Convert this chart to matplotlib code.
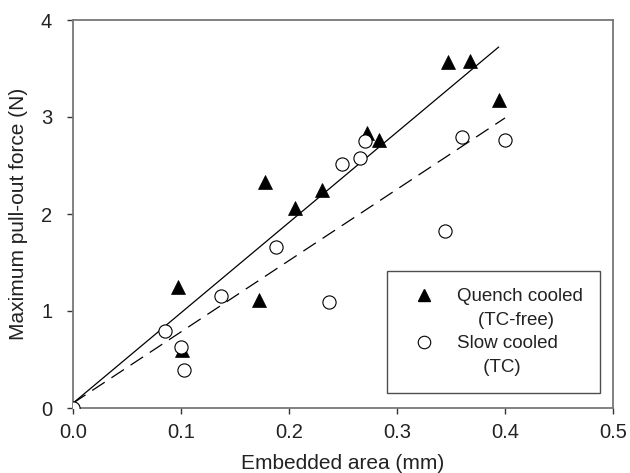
import matplotlib
matplotlib.use("Agg")
import matplotlib.pyplot as plt
from matplotlib.lines import Line2D

plt.rcParams['font.family'] = ['Liberation Sans', 'DejaVu Sans']

# Quench cooled (TC-free)
quench_x = [0.0, 0.097, 0.101, 0.172, 0.178, 0.206, 0.231, 0.272, 0.283, 0.347, 0.368, 0.394]
quench_y = [0.0, 1.25, 0.60, 1.11, 2.33, 2.06, 2.25, 2.83, 2.76, 3.57, 3.58, 3.18]

# Slow cooled (TC)
slow_x = [0.0, 0.085, 0.100, 0.103, 0.137, 0.188, 0.237, 0.249, 0.266, 0.270, 0.344, 0.360, 0.400]
slow_y = [0.0, 0.79, 0.63, 0.39, 1.15, 1.66, 1.09, 2.52, 2.58, 2.75, 1.82, 2.79, 2.76]

# Fitted lines (endpoints)
fit_quench_x = [0.0, 0.394]
fit_quench_y = [0.05, 3.72]
fit_slow_x = [0.0, 0.400]
fit_slow_y = [0.05, 2.99]

xticks = [0.0, 0.1, 0.2, 0.3, 0.4, 0.5]
yticks = [0, 1, 2, 3, 4]

fig = plt.figure(figsize=(6.3, 4.73), dpi=100)
ax = fig.add_axes([73/630, 1 - 408/473, (613-73)/630, (408-20)/473])

ax.plot(fit_quench_x, fit_quench_y, color='black', lw=0.9, zorder=2)
ax.plot(fit_slow_x, fit_slow_y, color='black', lw=0.9, dashes=(12, 6.4), zorder=2)

ax.plot(quench_x, quench_y, linestyle='none', marker='^', markersize=9.5,
        markerfacecolor='black', markeredgecolor='black', markeredgewidth=0.5, zorder=3)
ax.plot(slow_x, slow_y, linestyle='none', marker='o', markersize=9.5,
        markerfacecolor='white', markeredgecolor='black', markeredgewidth=0.8, zorder=4)

ax.set_xlim(0, 0.5)
ax.set_ylim(0, 4)
ax.set_xticks(xticks)
ax.set_xticklabels([f"{t:.1f}" for t in xticks])
ax.set_yticks(yticks)
ax.set_yticklabels([str(t) for t in yticks])
ax.tick_params(axis='both', direction='out', length=4.5, width=1, labelsize=14.5,
               color='#333333', labelcolor='#222222')
ax.tick_params(axis='x', pad=6)
ax.tick_params(axis='y', pad=10.5)
for s in ax.spines.values():
    s.set_color('#777777')
    s.set_linewidth(1.3)

ax.set_xlabel("Embedded area (mm)", fontsize=15, labelpad=9, color='#222222')
ax.set_ylabel("Maximum pull-out force (N)", fontsize=15, labelpad=9, color='#222222')

h_tri = Line2D([], [], linestyle='none', marker='^', markersize=9,
               markerfacecolor='black', markeredgecolor='black')
h_circ = Line2D([], [], linestyle='none', marker='o', markersize=9,
                markerfacecolor='white', markeredgecolor='black', markeredgewidth=0.8)
h_none = Line2D([], [], linestyle='none')
leg = ax.legend([h_tri, h_none, h_circ, h_none],
                ["Quench cooled", "    (TC-free)", "Slow cooled", "     (TC)"],
                loc='lower right', bbox_to_anchor=(600/630, 1 - 393/473),
                bbox_transform=fig.transFigure,
                fontsize=13.5, frameon=True, fancybox=False, edgecolor='#222222',
                handletextpad=0.7, labelspacing=0.35, borderpad=0.9,
                handlelength=2.15, borderaxespad=0)
leg.get_frame().set_linewidth(1.0)
for t in leg.get_texts():
    t.set_color('#222222')

fig.savefig("out.png", dpi=100)
